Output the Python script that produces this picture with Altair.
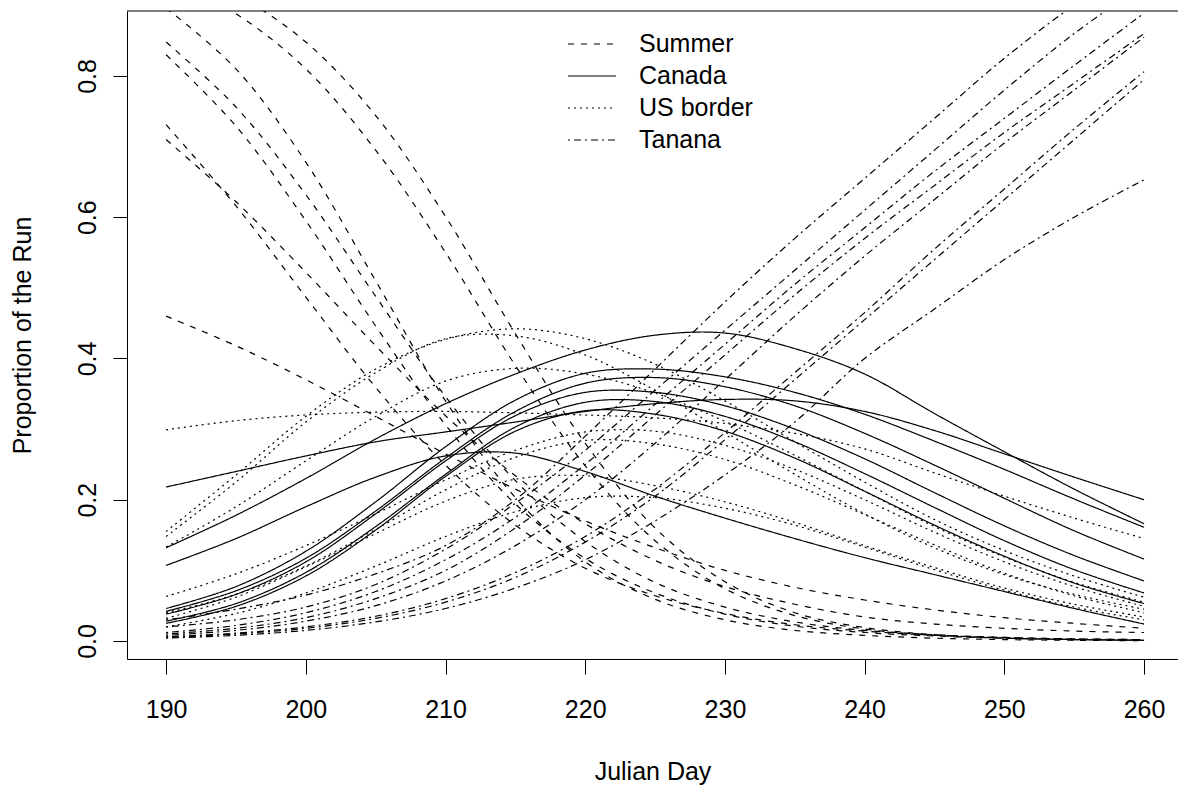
import altair as alt
import pandas as pd

days = [190, 195, 200, 205, 210, 215, 220, 225, 230, 235, 240, 245, 250, 255, 260]

summer = [
    [0.896, 0.810, 0.678, 0.510, 0.340, 0.203, 0.112, 0.059, 0.030, 0.015, 0.008, 0.004, 0.002, 0.001, 0.0005],
    [0.937, 0.888, 0.810, 0.695, 0.550, 0.390, 0.248, 0.142, 0.074, 0.036, 0.017, 0.008, 0.004, 0.002, 0.001],
    [0.954, 0.915, 0.848, 0.744, 0.601, 0.435, 0.280, 0.160, 0.084, 0.040, 0.019, 0.009, 0.004, 0.002, 0.001],
    [0.848, 0.756, 0.632, 0.488, 0.346, 0.227, 0.141, 0.083, 0.048, 0.027, 0.015, 0.009, 0.005, 0.003, 0.002],
    [0.830, 0.729, 0.595, 0.446, 0.306, 0.194, 0.117, 0.068, 0.038, 0.021, 0.012, 0.007, 0.004, 0.002, 0.001],
    [0.731, 0.616, 0.487, 0.359, 0.249, 0.164, 0.103, 0.064, 0.039, 0.023, 0.014, 0.008, 0.005, 0.003, 0.002],
    [0.710, 0.622, 0.522, 0.418, 0.319, 0.234, 0.166, 0.114, 0.077, 0.052, 0.034, 0.024, 0.018, 0.014, 0.012],
    [0.460, 0.418, 0.370, 0.318, 0.265, 0.215, 0.170, 0.132, 0.100, 0.076, 0.058, 0.044, 0.033, 0.025, 0.018],
]

canada = [
    [0.218, 0.240, 0.262, 0.282, 0.296, 0.310, 0.325, 0.336, 0.342, 0.340, 0.325, 0.298, 0.265, 0.232, 0.200],
    [0.132, 0.178, 0.230, 0.286, 0.336, 0.378, 0.412, 0.433, 0.436, 0.414, 0.378, 0.322, 0.268, 0.215, 0.166],
    [0.046, 0.077, 0.127, 0.197, 0.275, 0.341, 0.379, 0.385, 0.374, 0.352, 0.321, 0.283, 0.243, 0.201, 0.161],
    [0.042, 0.071, 0.117, 0.184, 0.259, 0.325, 0.365, 0.373, 0.360, 0.333, 0.294, 0.249, 0.202, 0.156, 0.116],
    [0.038, 0.066, 0.112, 0.180, 0.255, 0.319, 0.352, 0.352, 0.333, 0.300, 0.258, 0.210, 0.163, 0.121, 0.085],
    [0.028, 0.053, 0.097, 0.162, 0.236, 0.303, 0.338, 0.339, 0.318, 0.282, 0.237, 0.189, 0.142, 0.101, 0.068],
    [0.025, 0.049, 0.092, 0.157, 0.233, 0.297, 0.326, 0.321, 0.297, 0.259, 0.212, 0.164, 0.120, 0.082, 0.053],
    [0.107, 0.145, 0.190, 0.232, 0.262, 0.266, 0.240, 0.205, 0.174, 0.145, 0.118, 0.094, 0.070, 0.046, 0.024],
]

us_border = [
    [0.299, 0.312, 0.320, 0.324, 0.325, 0.323, 0.320, 0.316, 0.308, 0.294, 0.272, 0.238, 0.205, 0.174, 0.145],
    [0.155, 0.235, 0.318, 0.385, 0.427, 0.442, 0.428, 0.392, 0.340, 0.282, 0.225, 0.172, 0.128, 0.092, 0.062],
    [0.148, 0.225, 0.310, 0.380, 0.428, 0.432, 0.405, 0.355, 0.296, 0.236, 0.180, 0.132, 0.094, 0.066, 0.045],
    [0.063, 0.095, 0.135, 0.180, 0.228, 0.270, 0.296, 0.297, 0.277, 0.243, 0.200, 0.154, 0.112, 0.077, 0.049],
    [0.133, 0.190, 0.255, 0.318, 0.368, 0.386, 0.378, 0.351, 0.311, 0.263, 0.212, 0.162, 0.119, 0.083, 0.055],
    [0.040, 0.066, 0.106, 0.158, 0.214, 0.260, 0.284, 0.279, 0.257, 0.221, 0.179, 0.136, 0.096, 0.064, 0.040],
    [0.032, 0.062, 0.105, 0.152, 0.198, 0.229, 0.234, 0.220, 0.197, 0.168, 0.135, 0.104, 0.075, 0.052, 0.034],
    [0.020, 0.039, 0.068, 0.106, 0.148, 0.183, 0.203, 0.203, 0.188, 0.164, 0.133, 0.101, 0.072, 0.048, 0.030],
]

tanana = [
    [0.030, 0.045, 0.065, 0.095, 0.135, 0.200, 0.290, 0.385, 0.480, 0.570, 0.655, 0.740, 0.825, 0.900, 0.960],
    [0.020, 0.030, 0.048, 0.080, 0.130, 0.195, 0.270, 0.355, 0.440, 0.525, 0.610, 0.695, 0.780, 0.860, 0.930],
    [0.012, 0.022, 0.040, 0.070, 0.115, 0.175, 0.250, 0.335, 0.420, 0.505, 0.585, 0.665, 0.740, 0.815, 0.889],
    [0.010, 0.018, 0.033, 0.060, 0.100, 0.160, 0.235, 0.320, 0.405, 0.490, 0.570, 0.645, 0.720, 0.790, 0.860],
    [0.008, 0.015, 0.028, 0.050, 0.085, 0.135, 0.200, 0.280, 0.370, 0.460, 0.545, 0.625, 0.705, 0.780, 0.855],
    [0.006, 0.011, 0.020, 0.035, 0.060, 0.097, 0.148, 0.215, 0.295, 0.380, 0.465, 0.555, 0.640, 0.725, 0.806],
    [0.005, 0.010, 0.018, 0.032, 0.055, 0.090, 0.140, 0.205, 0.285, 0.370, 0.455, 0.540, 0.625, 0.710, 0.795],
    [0.004, 0.008, 0.015, 0.027, 0.046, 0.075, 0.115, 0.170, 0.235, 0.310, 0.400, 0.470, 0.540, 0.600, 0.653],
]

groups = ["Summer", "Canada", "US border", "Tanana"]
series = [summer, canada, us_border, tanana]

rows = []
for g, curves in zip(groups, series):
    for i, vals in enumerate(curves):
        for d, v in zip(days, vals):
            rows.append({"day": d, "value": v, "group": g, "curve": f"{g} {i + 1}"})
df = pd.DataFrame(rows)

FONT = "Liberation Sans"
W, H = 1051, 648

x_scale = alt.Scale(domain=[187.2, 262.43], nice=False, zero=False)
y_scale = alt.Scale(domain=[-0.0255, 0.892], nice=False, zero=False)

lines = alt.Chart(df).mark_line(
    clip=True, interpolate="catmull-rom", strokeWidth=1.2, color="black"
).encode(
    x=alt.X("day:Q", scale=x_scale, axis=alt.Axis(
        values=[190, 200, 210, 220, 230, 240, 250, 260], format="d", title="Julian Day",
        tickSize=15, labelPadding=23, titlePadding=37, grid=False)),
    y=alt.Y("value:Q", scale=y_scale, axis=alt.Axis(
        values=[0, 0.2, 0.4, 0.6, 0.8], format=".1f", title="Proportion of the Run",
        tickSize=14, labelPadding=13, labelAngle=270, labelAlign="center",
        labelBaseline="bottom", titlePadding=40, grid=False)),
    strokeDash=alt.StrokeDash("group:N", scale=alt.Scale(
        domain=groups, range=[[6, 7], [1, 0], [2, 4], [2, 4, 7, 4]]),
        legend=alt.Legend(orient="none", legendX=440, legendY=17, title=None,
                          symbolType="stroke", symbolSize=2304, symbolStrokeWidth=1.2,
                          symbolStrokeColor="black", labelFontSize=25, labelFont=FONT,
                          labelColor="black", labelOffset=22, clipHeight=32,
                          rowPadding=0, padding=0)),
    detail="curve:N",
)

frame_top = alt.Chart(pd.DataFrame({"k": [0]})).mark_rule(color="black", strokeWidth=1).encode(
    y=alt.value(0), x=alt.value(0), x2=alt.value(W)
)

chart = alt.layer(lines, frame_top).properties(
    width=W, height=H,
    autosize=alt.AutoSizeParams(type="none"),
    padding={"left": 127, "top": 11, "right": 0, "bottom": 128},
).configure_view(stroke=None).configure_axis(
    labelFont=FONT, titleFont=FONT, labelFontSize=25, titleFontSize=25,
    labelColor="black", titleColor="black", titleFontWeight="normal",
    domainColor="black", tickColor="black", domainWidth=1, tickWidth=1,
)

chart.save("out.html", embed_options={"renderer": "svg", "actions": False})
